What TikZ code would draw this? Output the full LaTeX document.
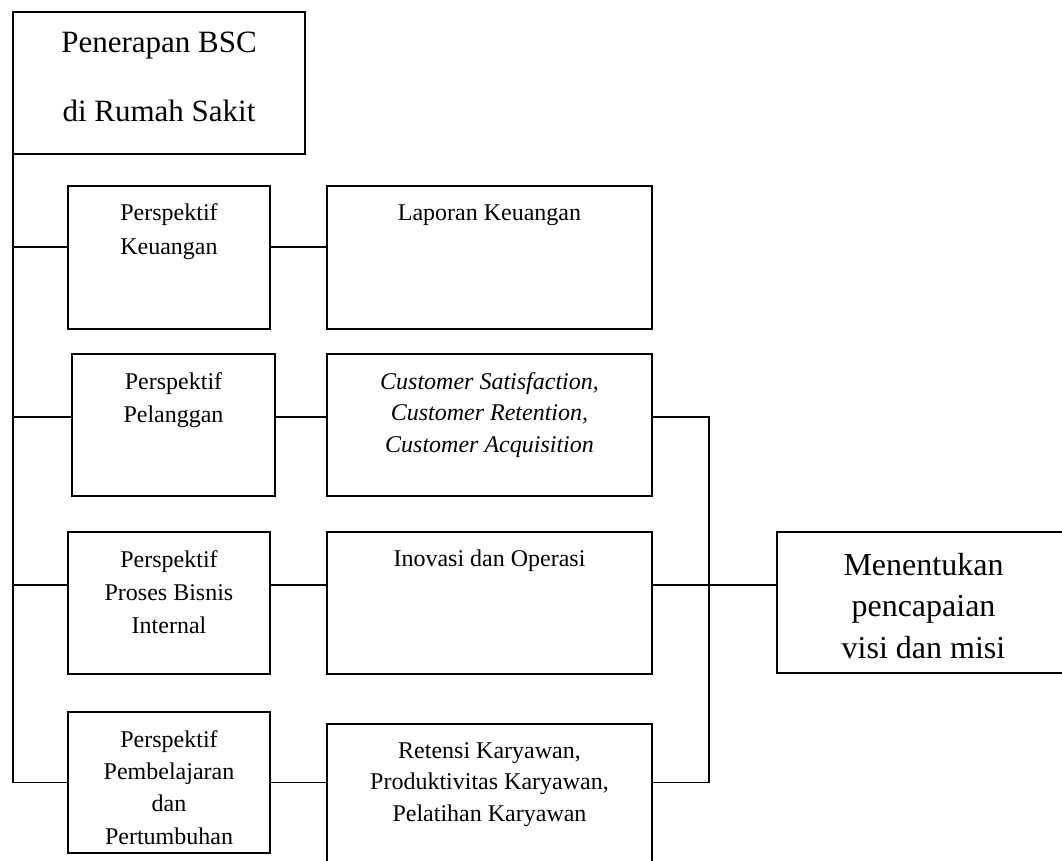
\documentclass[tikz,border=0pt]{standalone}
\usepackage{fontspec}
\setmainfont{Liberation Serif}
\begin{document}
\begin{tikzpicture}[x=1pt,y=-1pt,
  box/.style={draw, line width=1.8pt, inner sep=0pt, outer sep=0pt},
  conn/.style={line width=1.6pt},
  small/.style={inner sep=0pt, anchor=north, align=center, font=\fontsize{24}{33}\selectfont},
  smallr/.style={inner sep=0pt, anchor=north, align=center, font=\fontsize{24}{31.5}\selectfont},
  big/.style={inner sep=0pt, anchor=north, align=center}]
\clip (0,0) rectangle (1062,861);
\fill[white] (0,0) rectangle (1062,861);
% boxes
\node[box, minimum width=292pt, minimum height=142pt] (top) at (159,83) {};
\node[box, minimum width=202pt, minimum height=143pt] (p1) at (169,257.5) {};
\node[box, minimum width=203pt, minimum height=142pt] (p2) at (173.5,425) {};
\node[box, minimum width=202pt, minimum height=142pt] (p3) at (169,603) {};
\node[box, minimum width=202pt, minimum height=141pt] (p4) at (169,782.5) {};
\node[box, minimum width=325pt, minimum height=143pt] (r1) at (489.5,257.5) {};
\node[box, minimum width=325pt, minimum height=142pt] (r2) at (489.5,425) {};
\node[box, minimum width=325pt, minimum height=142pt] (r3) at (489.5,603) {};
\node[box, minimum width=325pt, minimum height=176pt] (r4) at (489.5,812) {};
\node[box, minimum width=293pt, minimum height=141pt] (goal) at (923.5,602.5) {};
% texts
\node[big, font=\fontsize{31}{69}\selectfont] (ttop) at ([yshift=-20pt]top.north) {Penerapan BSC\\di Rumah Sakit};
\node[small, font=\fontsize{24}{34}\selectfont] (tp1) at ([yshift=-17pt]p1.north) {Perspektif\\Keuangan};
\node[small] (tp2) at ([yshift=-18pt]p2.north) {Perspektif\\Pelanggan};
\node[small] (tp3) at ([yshift=-18pt]p3.north) {Perspektif\\Proses Bisnis\\Internal};
\node[small, font=\fontsize{24}{32.3}\selectfont] (tp4) at ([yshift=-18pt]p4.north) {Perspektif\\Pembelajaran\\dan\\Pertumbuhan};
\node[smallr] (tr1) at ([yshift=-19pt]r1.north) {Laporan Keuangan};
\node[smallr, font=\fontsize{24}{31.5}\selectfont\itshape] (tr2) at ([yshift=-18pt]r2.north) {Customer Satisfaction,\\Customer Retention,\\Customer Acquisition};
\node[smallr] (tr3) at ([yshift=-18pt]r3.north) {Inovasi dan Operasi};
\node[smallr] (tr4) at ([yshift=-18pt]r4.north) {Retensi Karyawan,\\Produktivitas Karyawan,\\Pelatihan Karyawan};
\node[big, font=\fontsize{32}{41.5}\selectfont] (tgoal) at ([yshift=-21pt]goal.north) {Menentukan\\pencapaian\\visi dan misi};
% connector anchor points
\coordinate (c1) at ([yshift=10.5pt]p1.west);
\coordinate (c2) at ([yshift=8pt]p2.west);
\coordinate (c3) at ([yshift=18pt]p3.west);
\coordinate (d1) at ([yshift=10.5pt]p1.east);
\coordinate (d2) at ([yshift=8pt]p2.east);
\coordinate (d3) at ([yshift=18pt]p3.east);
\coordinate (e2) at ([yshift=8pt]r2.east);
\coordinate (e3) at ([yshift=18pt]r3.east);
\coordinate (bus) at ([xshift=57pt]r2.east);
% connectors
\draw[conn] (top.south west) |- (p4.west);
\draw[conn] (top.south west |- c1) -- (c1);
\draw[conn] (top.south west |- c2) -- (c2);
\draw[conn] (top.south west |- c3) -- (c3);
\draw[conn] (d1) -- (d1 -| r1.west);
\draw[conn] (d2) -- (d2 -| r2.west);
\draw[conn] (d3) -- (d3 -| r3.west);
\draw[conn] (p4.east) -- (p4.east -| r4.west);
\draw[conn, line width=1.3pt] (e2) -| (bus |- p4.east) -- (p4.east -| r4.east);
\draw[conn, line width=1.3pt] (e3) -- (e3 -| goal.west);
\end{tikzpicture}
\end{document}
